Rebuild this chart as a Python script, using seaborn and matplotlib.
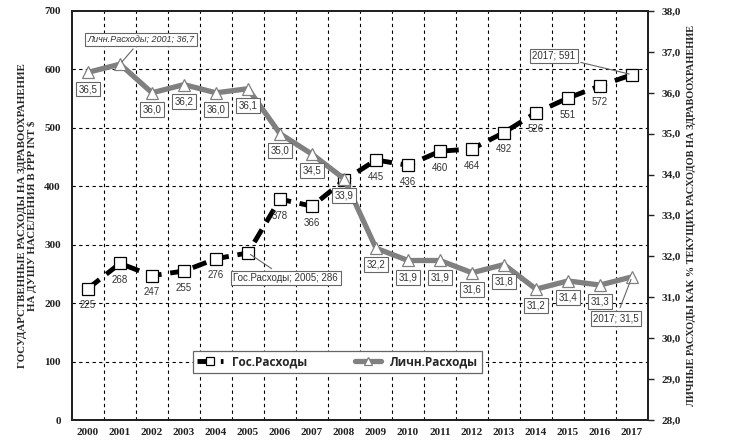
import numpy as np
import pandas as pd
import matplotlib.pyplot as plt
import seaborn as sns

# Data
years = list(range(2000, 2018))
gov = [225, 268, 247, 255, 276, 286, 378, 366, 410, 445, 436, 460, 464, 492, 526, 551, 572, 591]
priv = [36.5, 36.7, 36.0, 36.2, 36.0, 36.1, 35.0, 34.5, 33.9, 32.2, 31.9, 31.9, 31.6, 31.8, 31.2, 31.4, 31.3, 31.5]
gov_name = "Гос.Расходы"
priv_name = "Личн.Расходы"

df = pd.DataFrame({"year": years, "gov": gov, "priv": priv})

sns.set_theme(style="white")
plt.rcParams["font.family"] = ["Liberation Sans", "DejaVu Sans"]
serif = ["Liberation Serif", "DejaVu Serif"]

fig = plt.figure(figsize=(7.3, 4.46), dpi=100)
ax = fig.add_axes([72 / 730, 26 / 446, 576 / 730, 409 / 446])
ax2 = ax.twinx()

# Gov line (left axis)
sns.lineplot(data=df, x="year", y="gov", ax=ax, color="black", lw=3.5,
             linestyle=(0, (3.0, 1.8)), marker="s", ms=8, mfc="white",
             mec="black", mew=0.9, label=gov_name, legend=False, zorder=3)
# Private line (right axis)
sns.lineplot(data=df, x="year", y="priv", ax=ax2, color="#808080", lw=3.8,
             marker="^", ms=8, mfc="white", mec="#808080", mew=0.9,
             label=priv_name, legend=False, zorder=3)

ax.set_xlim(1999.5, 2017.5)
ax.set_ylim(0, 700)
ax2.set_ylim(28, 38)
ax.set_xticks(years)
ax.set_yticks(range(0, 701, 100))
ax2.set_yticks(np.arange(28, 38.1, 1))
ax2.set_yticklabels([f"{v:.1f}".replace(".", ",") for v in np.arange(28, 38.1, 1)])

ax.grid(False)
ax2.grid(False)
for yv in range(100, 700, 100):
    ax.axhline(yv, color="black", lw=0.8, ls=(0, (3, 3)), zorder=1)
for xv in np.arange(2000.5, 2017, 1):
    ax.axvline(xv, color="black", lw=0.8, ls=(0, (3, 3)), zorder=1)

for sp in list(ax.spines.values()) + list(ax2.spines.values()):
    sp.set_color("#222222")
    sp.set_linewidth(1.4)

ax.tick_params(axis="x", length=0, labelsize=8, pad=6)
ax.tick_params(axis="y", length=0, labelsize=8, pad=8)
ax2.tick_params(axis="y", length=4, width=1, direction="out", labelsize=8, pad=6, color="#222222")
for lab in ax.get_xticklabels() + ax.get_yticklabels() + ax2.get_yticklabels():
    lab.set_family(serif)
    lab.set_fontweight("bold")
    lab.set_color("#222222")

ax.set_xlabel("")
ax.set_ylabel("ГОСУДАРСТВЕННЫЕ РАСХОДЫ НА ЗДРАВООХРАНЕНИЕ\nНА ДУШУ НАСЕЛЕНИЯ В PPP INT $",
              family=serif, fontweight="bold", fontsize=7.8, labelpad=5, linespacing=1.1)
ax2.set_ylabel("ЛИЧНЫЕ РАСХОДЫ КАК % ТЕКУЩИХ РАСХОДОВ НА ЗДРАВООХРАНЕНИЕ",
               family=serif, fontweight="bold", fontsize=7.5, rotation=90, labelpad=4)

# Gov data labels below markers
for x, y in zip(years, gov):
    if x in (2005, 2008, 2017):
        continue
    ax.annotate(str(y), (x, y), xytext=(0, -12), textcoords="offset points",
                ha="center", va="center", fontsize=7, color="#333333", zorder=4)

box = dict(boxstyle="square,pad=0.25", fc="white", ec="#666666", lw=0.8)
# Private data labels in boxes
for x, y in zip(years, priv):
    if x in (2001, 2017):
        continue
    ax2.annotate(f"{y:.1f}".replace(".", ","), (x, y), xytext=(0, -12),
                 textcoords="offset points", ha="center", va="center",
                 fontsize=7, color="#333333", bbox=box, zorder=5)

lead = dict(arrowstyle="-", color="#666666", lw=0.8)
ax2.annotate(f"{priv_name}; 2001; 36,7", (2001, 36.7), xytext=(2001.66, 37.3),
             ha="center", va="center", fontsize=6.5, style="italic", color="#333333",
             bbox=box, arrowprops=lead, zorder=5)
ax2.annotate("2017; 31,5", (2017, 31.5), xytext=(2016.5, 30.49),
             ha="center", va="center", fontsize=7, color="#333333",
             bbox=box, arrowprops=lead, zorder=5)
ax.annotate(f"{gov_name}; 2005; 286", (2005, 286), xytext=(2006.18, 243),
            ha="center", va="center", fontsize=7, color="#333333",
            bbox=box, arrowprops=lead, zorder=5)
ax.annotate("2017; 591", (2017, 591), xytext=(2014.55, 623),
            ha="center", va="center", fontsize=7, color="#333333",
            bbox=box, arrowprops=lead, zorder=5)

# Combined legend
h1, l1 = ax.get_legend_handles_labels()
h2, l2 = ax2.get_legend_handles_labels()
leg = ax2.legend(h1 + h2, l1 + l2, ncol=2, loc="center", bbox_to_anchor=(0.461, 0.142),
                 frameon=True, fancybox=False, edgecolor="#666666", framealpha=1,
                 handlelength=2.2, columnspacing=4, borderpad=0.35, markerscale=0.8,
                 prop={"weight": "bold", "size": 8.5, "family": ["Open Sans", "DejaVu Sans"]})
leg.get_frame().set_linewidth(0.9)
leg.set_zorder(10)

fig.savefig("out.png", dpi=100)
